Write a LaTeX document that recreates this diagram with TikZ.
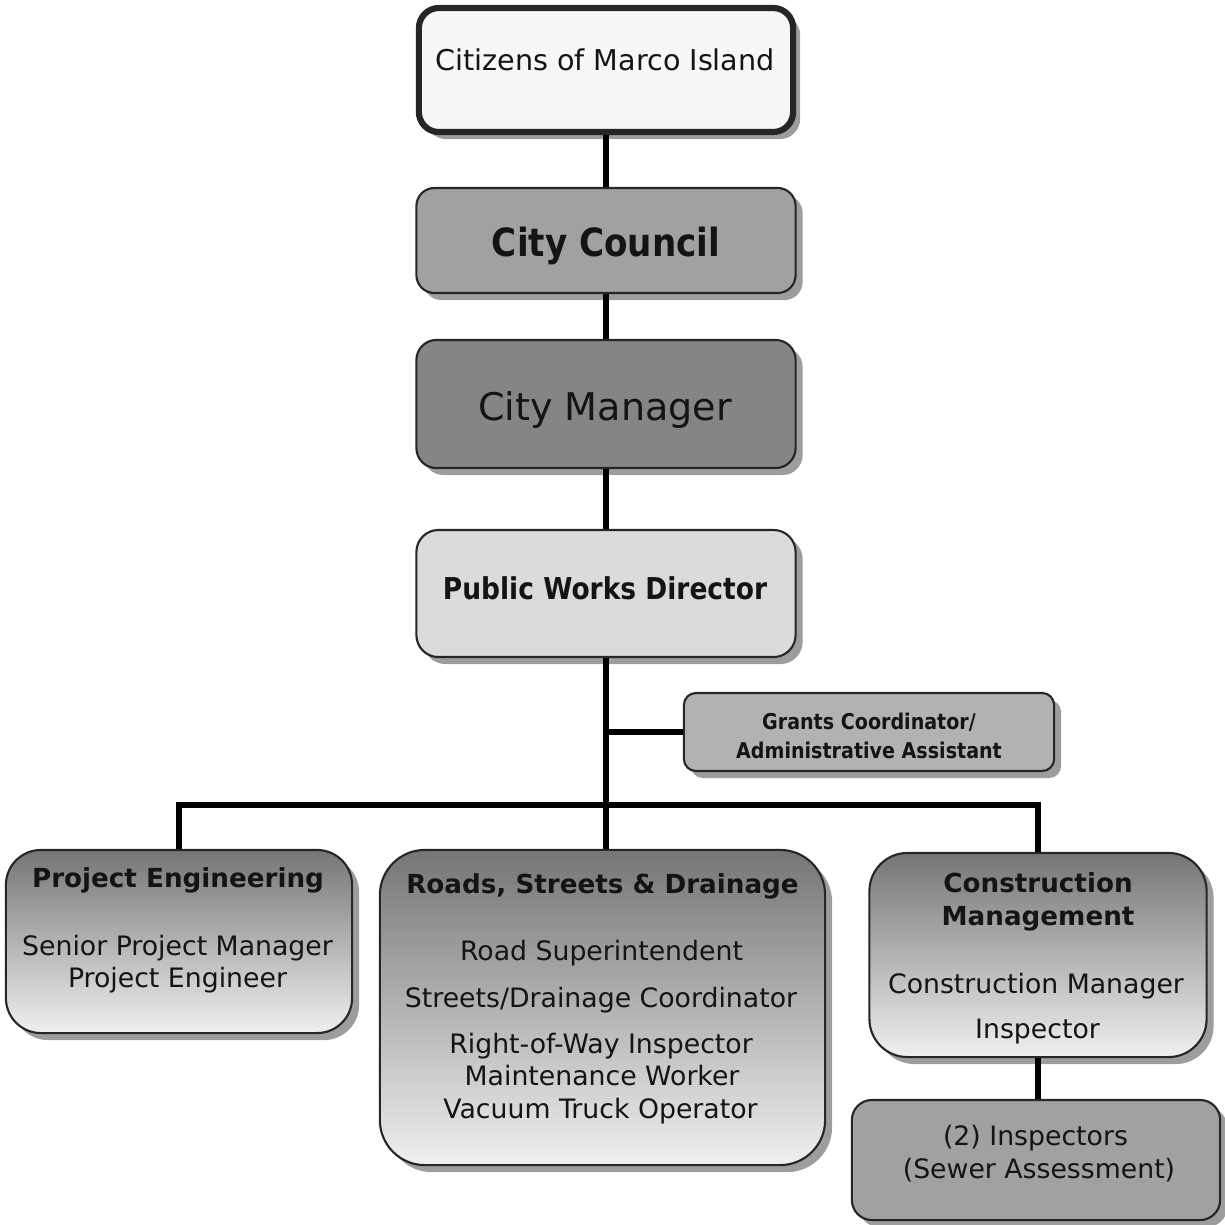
\documentclass[tikz,border=0pt]{standalone}
\usepackage{fontspec}
\setmainfont{DejaVu Sans}
% narrower bold face for the compact titles
\newfontfamily\narrowfont[FakeStretch=0.88]{DejaVu Sans}
\usetikzlibrary{shadows}

\tikzset{
  box/.style={draw=black!85, line width=0.6pt, inner sep=0pt,
    drop shadow={shadow xshift=0.07cm, shadow yshift=-0.07cm, fill=black!45, opacity=0.85}},
  link/.style={line width=1.45pt, black},
  txt/.style={anchor=base, inner sep=0pt, text=black!92},
  hdr/.style={txt, font=\fontsize{7.45}{8}\selectfont\bfseries},
  row/.style={txt, font=\fontsize{7.6}{8}\selectfont},
  grad/.style={top color=black!54, bottom color=black!6},
}

\begin{document}
\begin{tikzpicture}[x=0.01cm, y=-0.01cm]
\useasboundingbox (0,0) rectangle (1225,1224);

% ---- boxes ----
\node[box, fill=black!3, line width=1.75pt, rounded corners=0.2cm,
      minimum width=3.74cm, minimum height=1.24cm] (cit) at (606,70) {};
\node[box, fill=black!37, rounded corners=0.18cm,
      minimum width=3.79cm, minimum height=1.05cm] (cc) at (606,240.5) {};
\node[box, fill=black!48, rounded corners=0.2cm,
      minimum width=3.79cm, minimum height=1.28cm] (cman) at (606,404) {};
\node[box, fill=black!14, rounded corners=0.22cm,
      minimum width=3.79cm, minimum height=1.27cm] (pwd) at (606,593.5) {};
\node[box, fill=black!30, rounded corners=0.12cm,
      minimum width=3.70cm, minimum height=0.78cm] (grants) at (869,732) {};
\node[box, grad, rounded corners=0.35cm,
      minimum width=3.46cm, minimum height=1.83cm] (pe) at (179,941.5) {};
\node[box, grad, rounded corners=0.45cm,
      minimum width=4.45cm, minimum height=3.15cm] (roads) at (602.5,1007.5) {};
\node[box, grad, rounded corners=0.38cm,
      minimum width=3.37cm, minimum height=2.04cm] (cmg) at (1038,955) {};
\node[box, fill=black!37, rounded corners=0.2cm,
      minimum width=3.68cm, minimum height=1.20cm] (insp) at (1036,1160) {};

% ---- connectors ----
\coordinate (junc) at (606,805);
\draw[link] (cit.south) -- (cc.north);
\draw[link] (cc.south) -- (cman.north);
\draw[link] (cman.south) -- (pwd.north);
\draw[link] (pwd.south) -- (junc);
\draw[link] (grants.west) -- (grants.west -| junc);
\draw[link] (pe.north) |- (junc) -| (cmg.north);
\draw[link] (junc) -- (junc |- roads.north);
\draw[link] (cmg.south) -- (cmg.south |- insp.north);

% ---- labels ----
\node[txt, font=\fontsize{8.14}{9}\selectfont] (tcit) at (605,70) {Citizens of Marco Island};
\node[txt, font=\fontsize{11.04}{12}\narrowfont\bfseries] (tcc) at (606,256) {City Council};
\node[txt, font=\fontsize{10.84}{12}\selectfont] (tcman) at (605,420) {City Manager};
\node[txt, font=\fontsize{8.56}{9}\narrowfont\bfseries] (tpwd) at (605,599) {Public Works Director};
\node[txt, font=\fontsize{6.17}{7}\narrowfont\bfseries] (tgr1) at (869,729) {Grants Coordinator/};
\node[txt, font=\fontsize{6.17}{7}\narrowfont\bfseries] (tgr2) at (869,758) {Administrative Assistant};

\node[hdr] (tpe0) at (178,887) {Project Engineering};
\node[row] (tpe1) at (177.5,955) {Senior Project Manager};
\node[row] (tpe2) at (177.5,987) {Project Engineer};

\node[hdr] (trd0) at (602.5,893) {Roads, Streets \& Drainage};
\node[row] (trd1) at (601.5,960) {Road Superintendent};
\node[row] (trd2) at (601,1007) {Streets/Drainage Coordinator};
\node[row] (trd3) at (601,1053) {Right-of-Way Inspector};
\node[row] (trd4) at (602,1085) {Maintenance Worker};
\node[row] (trd5) at (600.5,1118) {Vacuum Truck Operator};

\node[hdr] (tcm0) at (1038,892) {Construction};
\node[hdr] (tcm1) at (1038,925) {Management};
\node[row] (tcm2) at (1036,993) {Construction Manager};
\node[row] (tcm3) at (1037.5,1038) {Inspector};

\node[row] (tin1) at (1035.5,1145) {(2) Inspectors};
\node[row] (tin2) at (1039,1178) {(Sewer Assessment)};
\end{tikzpicture}
\end{document}
